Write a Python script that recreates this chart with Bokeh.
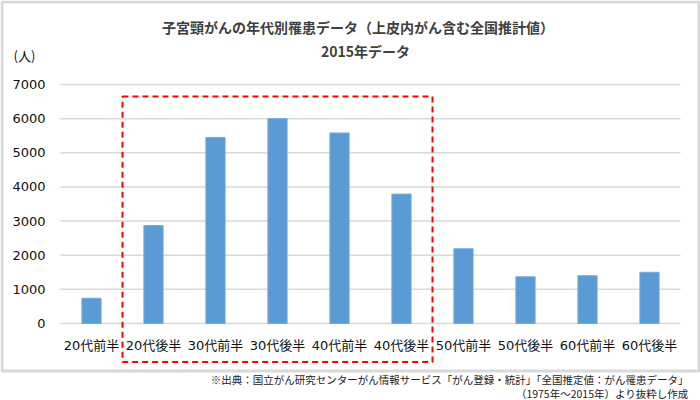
from bokeh.plotting import figure
from bokeh.models import Range1d, BoxAnnotation, Label, FixedTicker, ColumnDataSource, LinearAxis
from bokeh.embed import file_html
from bokeh.resources import INLINE

# ---- data ----
categories = ["20代前半", "20代後半", "30代前半", "30代後半", "40代前半",
              "40代後半", "50代前半", "50代後半", "60代前半", "60代後半"]
patients = [740, 2870, 5450, 6000, 5580, 3790, 2190, 1370, 1400, 1500]
y_ticks = [0, 1000, 2000, 3000, 4000, 5000, 6000, 7000]
highlight_range = ("20代後半", "40代後半")
highlight_values = (-1130, 6650)
title_lines = ["子宮頸がんの年代別罹患データ（上皮内がん含む全国推計値）", "2015年データ"]
unit_label = "(人)"
source_lines = ["※出典：国立がん研究センターがん情報サービス「がん登録・統計」「全国推定値：がん罹患データ」",
                "（1975年～2015年）より抜粋し作成"]

# ---- layout constants (canvas px) ----
W, H = 700, 400
PL, PR, PT, PB = 60, 680, 84, 323   # plot-area edges
CJK = "Noto Sans CJK JP"
TICKF = "DejaVu Sans, Noto Sans CJK JP"

n = len(categories)
xpos = list(range(n))
cat_px = (PR - PL) / n
y_px = (PB - PT) / (y_ticks[-1] - y_ticks[0])

x_range = Range1d(-0.5 - PL / cat_px, n - 0.5 + (W - PR) / cat_px)
y_range = Range1d(y_ticks[0] - (H - PB) / y_px, y_ticks[-1] + PT / y_px)


def sy(y):
    return H - y


p = figure(x_range=x_range, y_range=y_range, width=W, height=H,
           output_backend="svg", toolbar_location=None,
           x_axis_location=None, y_axis_location=None,
           min_border=0, min_border_left=0, min_border_right=0,
           min_border_top=0, min_border_bottom=0)
p.outline_line_color = None
p.grid.visible = False
p.background_fill_color = "white"
p.border_fill_color = "white"

# grid lines (over plot-area width only)
p.segment(x0=[-0.5] * len(y_ticks), x1=[n - 0.5] * len(y_ticks), y0=y_ticks, y1=y_ticks,
          line_color="#d9d9d9", line_width=1.5)

src = ColumnDataSource(dict(x=xpos, val=patients))
p.vbar(x="x", top="val", width=0.31, source=src,
       fill_color="#5B9BD5", line_color="#78ABDB", line_width=1)

# axes at fixed locations
yaxis = LinearAxis(ticker=FixedTicker(ticks=y_ticks), fixed_location=-0.5)
xaxis = LinearAxis(ticker=FixedTicker(ticks=xpos), fixed_location=y_ticks[0],
                   major_label_overrides={i: c for i, c in zip(xpos, categories)})
for ax in (xaxis, yaxis):
    ax.axis_line_color = None
    ax.major_tick_line_color = None
    ax.minor_tick_line_color = None
    ax.major_tick_out = 0
    ax.major_tick_in = 0
    ax.major_label_text_font = TICKF
    ax.major_label_text_font_size = "13px"
    ax.major_label_text_color = "#111111"
yaxis.major_label_standoff = 15
xaxis.major_label_standoff = 14
p.add_layout(yaxis, "left")
p.add_layout(xaxis, "below")

# highlight box (dashed red)
i0 = categories.index(highlight_range[0]) - 0.5
i1 = categories.index(highlight_range[1]) + 0.5
p.add_layout(BoxAnnotation(left=i0, right=i1, bottom=highlight_values[0], top=highlight_values[1],
                           fill_color=None, fill_alpha=0, line_color="#ff0000", line_alpha=1,
                           line_width=2, line_dash="6 4"))

# outer gray border
p.add_layout(BoxAnnotation(left=1.5, right=W - 1.5, top=sy(1.5), bottom=sy(370.5),
                           left_units="screen", right_units="screen",
                           top_units="screen", bottom_units="screen",
                           fill_color=None, fill_alpha=0, line_color="#d9d9d9", line_alpha=1,
                           line_width=3))

# titles
p.add_layout(Label(x=357.5, y=sy(26.7), x_units="screen", y_units="screen",
                   text=title_lines[0], text_align="center", text_baseline="middle",
                   text_font=CJK, text_font_size="14px", text_font_style="bold",
                   text_color="#404040"))
p.add_layout(Label(x=365, y=sy(50), x_units="screen", y_units="screen",
                   text=title_lines[1], text_align="center", text_baseline="middle",
                   text_font=CJK, text_font_size="14px", text_font_style="bold",
                   text_color="#404040"))
p.add_layout(Label(x=13, y=sy(55), x_units="screen", y_units="screen",
                   text=unit_label, text_align="left", text_baseline="middle",
                   text_font=CJK, text_font_size="13px", text_color="#111111"))
# source note
p.add_layout(Label(x=688, y=sy(379), x_units="screen", y_units="screen",
                   text=source_lines[0], text_align="right", text_baseline="middle",
                   text_font=CJK, text_font_size="10.5px", text_color="#222222"))
p.add_layout(Label(x=688, y=sy(392.5), x_units="screen", y_units="screen",
                   text=source_lines[1], text_align="right", text_baseline="middle",
                   text_font=CJK, text_font_size="10.5px", text_color="#222222"))

open("out.html", "w").write(file_html(p, INLINE))
